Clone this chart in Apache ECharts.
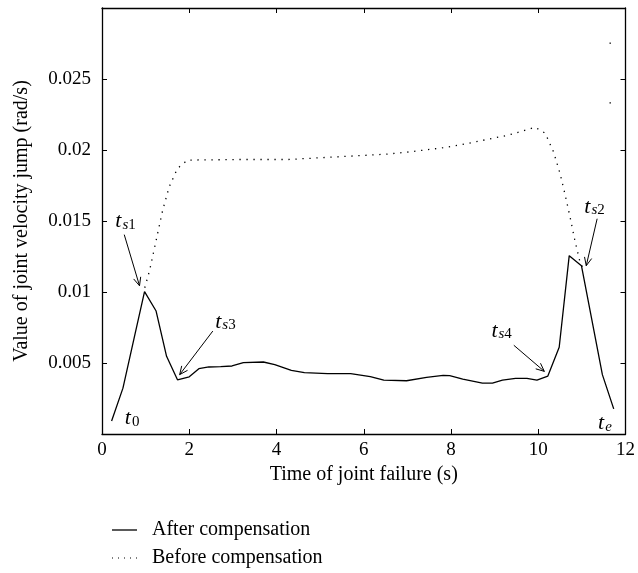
<!DOCTYPE html>
<html><head><meta charset="utf-8">
<script src="https://cdn.jsdelivr.net/npm/echarts@6/dist/echarts.min.js"></script>
<style>html,body{margin:0;padding:0;background:#fff}#c{width:638px;height:573px}</style>
</head><body><div id="c"></div>
<script>
// ---- data ----
const afterX = [0.22, 0.48, 0.74, 0.975, 1.24, 1.48, 1.73, 2.0, 2.22, 2.45, 2.72, 2.98, 3.24, 3.7, 3.96, 4.34, 4.64, 5.17, 5.7, 6.15, 6.46, 6.98, 7.44, 7.82, 7.97, 8.27, 8.72, 8.95, 9.18, 9.48, 9.74, 9.97, 10.22, 10.48, 10.71, 10.99, 11.47, 11.73];
const afterY = [0.00092, 0.00323, 0.0068, 0.01003, 0.00866, 0.00547, 0.00382, 0.00403, 0.0046, 0.00472, 0.00474, 0.00479, 0.00503, 0.00507, 0.00489, 0.00448, 0.00432, 0.00425, 0.00425, 0.00404, 0.0038, 0.00375, 0.00399, 0.00413, 0.00411, 0.00387, 0.00358, 0.00358, 0.0038, 0.00392, 0.00392, 0.0038, 0.00408, 0.00611, 0.01256, 0.01185, 0.00418, 0.00177];
const beforeX = [0.98, 1.09, 1.24, 1.39, 1.54, 1.73, 1.96, 3.17, 4.26, 5.4, 6.53, 7.06, 7.82, 8.19, 8.57, 9.33, 9.93, 10.16, 10.35, 10.5, 10.61, 10.73, 10.84, 10.95, 11.02];
const beforeY = [0.0103, 0.0115, 0.01362, 0.01575, 0.0174, 0.0187, 0.01929, 0.01933, 0.01933, 0.01952, 0.01971, 0.01987, 0.02016, 0.02035, 0.02058, 0.02106, 0.0216, 0.02118, 0.01987, 0.01834, 0.01693, 0.01527, 0.01362, 0.0122, 0.0117];
const strayX = [11.65, 11.65];
const strayY = [0.02752, 0.02332];
const seriesNames = ['After compensation', 'Before compensation'];
const xTickValues = [0, 2, 4, 6, 8, 10, 12];
const yTickLabels = ['0.005', '0.01', '0.015', '0.02', '0.025'];
const axisTitles = ['Time of joint failure (s)', 'Value of joint velocity jump (rad/s)'];
// annotation labels: italic t + subscript
const annoSub = ['s1', 's2', 's3', 's4', '0', 'e'];
const annoAtX = [0.54, 11.29, 2.83, 9.16, 0.69, 11.53];
const annoAtY = [0.01496, 0.01599, 0.0079, 0.00725, 0.00112, 0.00076];
// arrows (from -> to), in data units
const arrowFromX = [0.51, 11.35, 2.54, 9.44];
const arrowFromY = [0.01404, 0.01516, 0.00725, 0.00625];
const arrowToX = [0.86, 11.1, 1.78, 10.14];
const arrowToY = [0.01044, 0.01185, 0.00418, 0.00441];

const FONT = "'Liberation Serif','DejaVu Serif',serif";
const zip = (a, b) => a.map((v, i) => [v, b[i]]);

function subFormatter(sub) {
  let s = '{t|t}';
  for (const ch of sub) s += /[0-9]/.test(ch) ? '{n|' + ch + '}' : '{i|' + ch + '}';
  return s;
}
const richStyles = {
  t: { fontFamily: FONT, fontStyle: 'italic', fontSize: 22, color: '#000', lineHeight: 22, verticalAlign: 'top', padding: [0, 1, 3, 0] },
  i: { fontFamily: FONT, fontStyle: 'italic', fontSize: 15, color: '#000', lineHeight: 15, verticalAlign: 'bottom' },
  n: { fontFamily: FONT, fontSize: 15, color: '#000', lineHeight: 15, verticalAlign: 'bottom' }
};

const markPointData = annoSub.map((s, i) => ({
  coord: [annoAtX[i], annoAtY[i]],
  symbolSize: 0,
  label: { show: true, position: 'inside', formatter: subFormatter(s), rich: richStyles }
}));
const markLineData = arrowFromX.map((x, i) => [
  { coord: [x, arrowFromY[i]] },
  { coord: [arrowToX[i], arrowToY[i]] }
]);

const axisCommon = {
  type: 'value',
  axisLine: { show: true, onZero: false, lineStyle: { color: '#000', width: 1.3 } },
  axisTick: { show: true, inside: true, length: 5, lineStyle: { color: '#000', width: 1 } },
  splitLine: { show: false }
};
const legendCommon = {
  orient: 'vertical', left: 112, padding: 0, itemGap: 0,
  itemWidth: 25, itemHeight: 1.3,
  textStyle: { fontFamily: FONT, fontSize: 20, color: '#000', padding: [0, 0, 0, 10] }
};
const dottedIcon = 'path://M0,0h1v1h-1z M6,0h1v1h-1z M12,0h1v1h-1z M18,0h1v1h-1z M24,0h1v1h-1z';

const option = {
  animation: false,
  backgroundColor: '#fff',
  grid: { left: 102, right: 7, top: 8, bottom: 139, containLabel: false },
  legend: [
    Object.assign({}, legendCommon, { top: 520, data: [{ name: seriesNames[0], icon: 'rect' }] }),
    Object.assign({}, legendCommon, { top: 548, data: [{ name: seriesNames[1], icon: dottedIcon }] })
  ],
  xAxis: [
    Object.assign({}, axisCommon, {
      position: 'bottom', min: xTickValues[0], max: xTickValues[xTickValues.length - 1], interval: 2,
      axisLabel: { color: '#000', fontFamily: FONT, fontSize: 19, margin: 7, showMaxLabel: true, showMinLabel: true },
      name: axisTitles[0], nameLocation: 'middle', nameGap: 30,
      nameTextStyle: { fontFamily: FONT, fontSize: 20, color: '#000' }
    }),
    Object.assign({}, axisCommon, {
      position: 'top', min: 0, max: 12, interval: 2, axisLabel: { show: false }
    })
  ],
  yAxis: [
    Object.assign({}, axisCommon, {
      position: 'left', min: 0, max: 0.03, interval: 0.005,
      axisLabel: {
        color: '#000', fontFamily: FONT, fontSize: 19, margin: 11,
        formatter: v => { const s = String(+v.toFixed(3)); return yTickLabels.includes(s) ? s : ''; }
      },
      name: axisTitles[1], nameLocation: 'middle', nameGap: 70, nameRotate: 90,
      nameTextStyle: { fontFamily: FONT, fontSize: 20, color: '#000' }
    }),
    Object.assign({}, axisCommon, {
      position: 'right', min: 0, max: 0.03, interval: 0.005, axisLabel: { show: false }
    })
  ],
  series: [
    {
      name: seriesNames[0], type: 'line', data: zip(afterX, afterY),
      symbol: 'none', lineStyle: { color: '#000', width: 1.3 }, itemStyle: { color: '#000' },
      z: 3,
      markPoint: { silent: true, data: markPointData, itemStyle: { color: 'transparent' } },
      markLine: {
        silent: true, symbol: ['none', 'none'],
        lineStyle: { color: '#000', width: 1, type: 'solid' },
        label: { show: false }, data: markLineData, animation: false
      }
    },
    {
      name: seriesNames[1], type: 'line', data: zip(beforeX, beforeY),
      symbol: 'none', lineStyle: { color: '#000', width: 1.3, type: [1.3, 5.7], cap: 'butt' }, itemStyle: { color: '#000' },
      z: 2
    },
    {
      type: 'scatter', data: zip(strayX, strayY), symbol: 'rect', symbolSize: 1.6,
      itemStyle: { color: '#222' }, silent: true
    }
  ]
};
const chart = echarts.init(document.getElementById('c'), null, { renderer: 'canvas' });
chart.setOption(option);

// open "V" arrow heads: computed in pixel space through the chart's own scales
const finder = { seriesIndex: 0 };
const heads = [];
arrowFromX.forEach((x, i) => {
  const p0 = chart.convertToPixel(finder, [x, arrowFromY[i]]);
  const p1 = chart.convertToPixel(finder, [arrowToX[i], arrowToY[i]]);
  const ang = Math.atan2(p0[1] - p1[1], p0[0] - p1[0]);
  [-0.42, 0.42].forEach(d => {
    const q = [p1[0] + 9 * Math.cos(ang + d), p1[1] + 9 * Math.sin(ang + d)];
    heads.push([{ coord: [arrowToX[i], arrowToY[i]] }, { coord: chart.convertFromPixel(finder, q) }]);
  });
});
chart.setOption({ series: [{ markLine: { data: markLineData.concat(heads) } }] });
</script></body></html>
